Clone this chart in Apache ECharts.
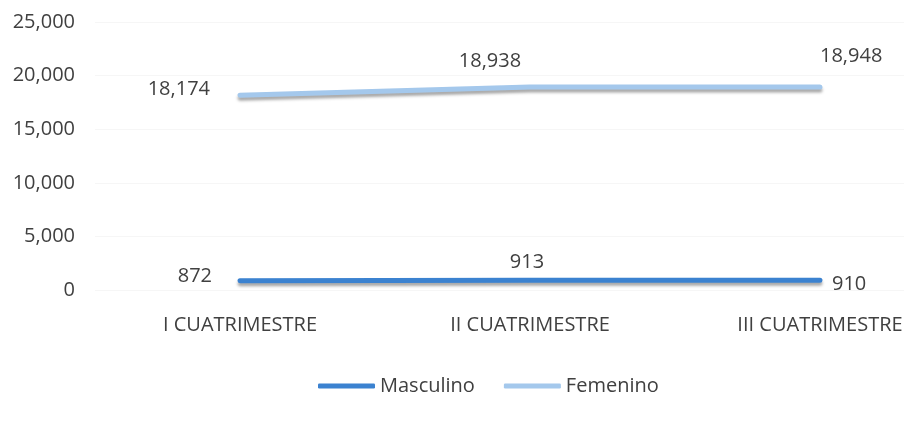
<!DOCTYPE html>
<html>
<head>
<meta charset="utf-8">
<script src="https://cdn.jsdelivr.net/npm/echarts@6/dist/echarts.min.js"></script>
<style>
  html, body { margin: 0; padding: 0; background: #fff; }
  #chart { width: 904px; height: 421px; }
</style>
</head>
<body>
<div id="chart"></div>
<script>
const categories = ['I CUATRIMESTRE', 'II CUATRIMESTRE', 'III CUATRIMESTRE'];
const masculino = [872, 913, 910];
const femenino = [18174, 18938, 18948];
const yTicks = [0, 5000, 10000, 15000, 20000, 25000];

const textColor = '#404040';
const font = 'Open Sans';

const fmt = (v) => v.toLocaleString('en-US');

// label placement per point: left / top / right, like the Excel original
const labelsFor = (positions, offsets) => positions.map((p, i) => ({
  position: p,
  offset: offsets[i],
}));

const femLabels = labelsFor(['left', 'top', 'right'], [[-24, -6], [-40, -10], [-6, -31]]);
const mascLabels = labelsFor(['left', 'top', 'right'], [[-22, -4], [-3, -2], [6, 4]]);

const chart = echarts.init(document.getElementById('chart'));

const lineSeries = (name, values, color, labels) => ({
  name,
  type: 'line',
  data: values.map((v, i) => ({ value: v, label: labels[i] })),
  symbol: 'circle',
  symbolSize: 2,
  showSymbol: true,
  label: {
    show: true,
    formatter: (d) => fmt(d.value),
    color: textColor,
    fontFamily: font,
    fontSize: 20,
  },
  lineStyle: {
    width: 5,
    color,
    cap: 'round',
    shadowColor: 'rgba(0, 0, 0, 0.35)',
    shadowBlur: 3,
    shadowOffsetY: 3,
  },
  itemStyle: { color },
});

chart.setOption({
  backgroundColor: '#fff',
  animation: false,
  grid: {
    left: 95,
    top: 22,
    width: 870,
    bottom: 131,
    outerBoundsMode: 'none',
  },
  legend: {
    top: 371,
    left: 313,
    itemWidth: 57,
    itemHeight: 5,
    itemGap: 29,
    icon: 'roundRect',
    textStyle: { color: textColor, fontFamily: font, fontSize: 20 },
    data: ['Masculino', 'Femenino'],
  },
  xAxis: {
    type: 'category',
    data: categories,
    boundaryGap: true,
    axisLine: { show: false },
    axisTick: { show: false },
    axisLabel: {
      color: textColor,
      fontFamily: font,
      fontSize: 20,
      margin: 25,
    },
  },
  yAxis: {
    type: 'value',
    min: yTicks[0],
    max: yTicks[yTicks.length - 1],
    interval: 5000,
    axisLine: { show: false },
    axisTick: { show: false },
    axisLabel: {
      color: textColor,
      fontFamily: font,
      fontSize: 20,
      margin: 20,
      formatter: (v) => fmt(v),
    },
    splitLine: { lineStyle: { color: '#f6f6f6', width: 1 } },
  },
  series: [
    lineSeries('Masculino', masculino, '#3b82d0', mascLabels),
    lineSeries('Femenino', femenino, '#a4c8ec', femLabels),
  ],
});
</script>
</body>
</html>
